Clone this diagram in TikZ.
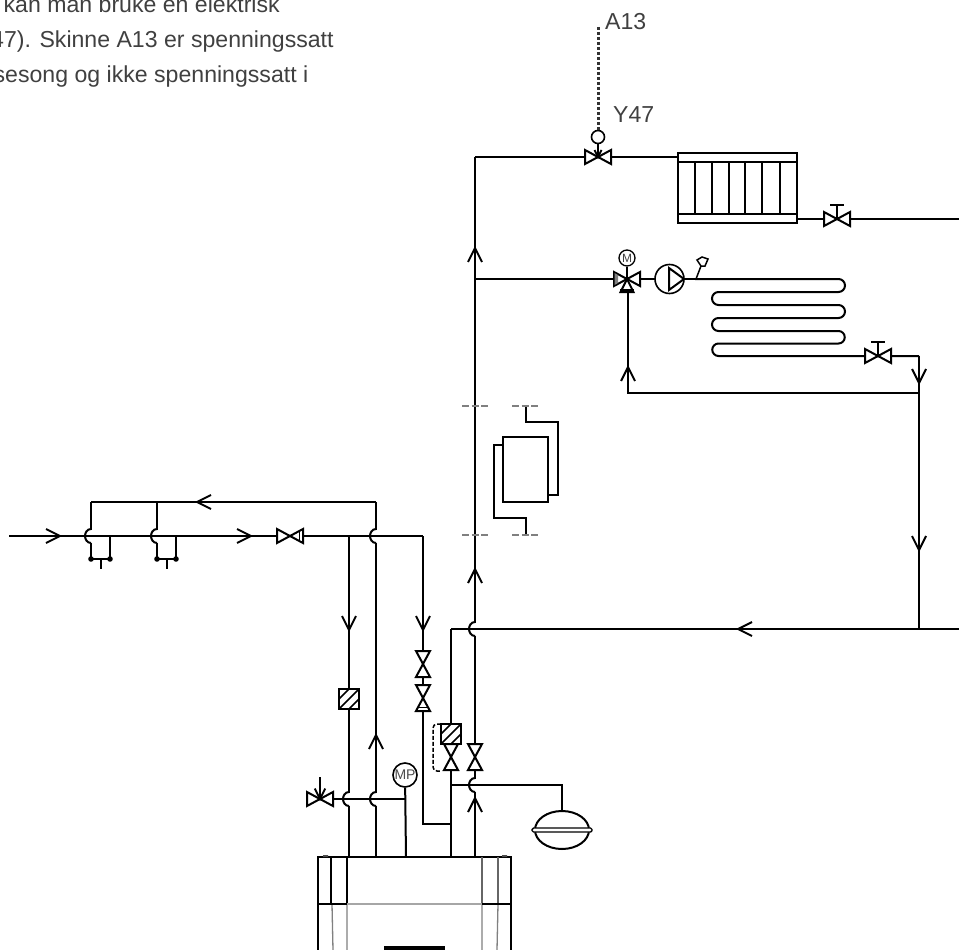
\documentclass[tikz,border=0pt]{standalone}
\usepackage{fontspec}
\setmainfont{Liberation Sans}
\begin{document}
\begin{tikzpicture}[%%
  x=1pt,y=-1pt,%%
  pipeStyle/.style={line width=2pt,line join=miter},%%
  thinStyle/.style={line width=1.3pt,gray},%%
  signalStyle/.style={line width=3pt,dash pattern=on 3pt off 2pt,black!80},%%
  cutStyle/.style={line width=1.4pt,gray,dash pattern=on 7pt off 2.6pt},%%
  labelStyle/.style={text=black!75,font=\fontsize{23.1}{23.1}\selectfont,inner sep=0pt,anchor=base west},%%
  ringStyle/.style={circle,draw,line width=1.6pt,fill=white,inner sep=0pt},%%
  flowArrow/.pic={\draw[pipeStyle] (-14,-7) -- (0,0) -- (-14,7);},%%
  valveSymbol/.pic={\draw[pipeStyle,fill=white] (-13,-7) -- (13,7) -- (13,-7) -- (-13,7) -- cycle;},%%
  valveBar/.pic={\draw[line width=1.6pt] (9.5,-6) -- (9.5,6);},%%
  valveHandle/.pic={\draw[pipeStyle] (0,0) -- (0,-14) (-7,-14) -- (7,-14);},%%
  pipeBump/.pic={%%
    \draw[white,line width=3.4pt] (0,-6.5) -- (0,6.5);
    \draw[pipeStyle] (0,-7) .. controls (-4,-7) and (-6,-3) .. (-6,0) .. controls (-6,3) and (-4,7) .. (0,7);},%%
  filterSymbol/.pic={%%
    \draw[pipeStyle,fill=white] (-10,-10) rectangle (10,10);
    \draw[line width=1.5pt] (-10,0) -- (0,-10) (-10,10) -- (10,-10) (0,10) -- (10,0);},%%
  drainDot/.pic={%%
    \fill (0,0) circle (2.8);
    \fill (19,0) circle (2.8);
    \draw[pipeStyle] (0,0) -- (19,0) (10,0) -- (10,10);}%%
]
%%
\useasboundingbox (0,0) rectangle (959,950);
%%
%% Points of the pipe runs.
\coordinate (inlet) at (9,536);
\coordinate (returnLeft) at (91,502);
\coordinate (returnMid) at (157,502);
\coordinate (returnRight) at (376,502);
\coordinate (drainA) at (91,559);
\coordinate (drainB) at (110,559);
\coordinate (drainC) at (157,559);
\coordinate (drainD) at (176,559);
\coordinate (tapB) at (110,536);
\coordinate (tapD) at (176,536);
\coordinate (mainValve) at (290,536);
\coordinate (coldTop) at (349,536);
\coordinate (boilerA) at (349,857);
\coordinate (boilerB) at (376,857);
\coordinate (boilerC) at (406,857);
\coordinate (boilerD) at (451,857);
\coordinate (boilerE) at (475,857);
\coordinate (fillLow) at (423,824);
\coordinate (fillJoin) at (451,824);
\coordinate (fillHigh) at (423,536);
\coordinate (heatTop) at (475,157);
\coordinate (floorTee) at (475,279);
\coordinate (backTee) at (451,629);
\coordinate (backOut) at (959,629);
\coordinate (backJoin) at (919,629);
\coordinate (tankTee) at (450,785);
\coordinate (tankTurn) at (562,785);
\coordinate (tankTop) at (562,811);
\coordinate (drainValve) at (320,799);
\coordinate (gaugeTee) at (405,799);
%%
\coordinate (radValve) at (598,157);
\coordinate (radIn) at (678,157);
\coordinate (radOut) at (797,219);
\coordinate (radEnd) at (959,219);
\coordinate (radTrim) at (837,219);
\coordinate (mixValve) at (627,279);
\coordinate (coilStart) at (695,279);
\coordinate (coilTrim) at (878,356);
\coordinate (coilTurn) at (919,356);
\coordinate (loopRight) at (919,393);
\coordinate (loopLeft) at (628,393);
\coordinate (loopTop) at (628,290);
%%
%% The vertical pipes first, so that the bumps can cut them.
\draw[pipeStyle] (returnLeft) -- (drainA);
\draw[pipeStyle] (returnMid) -- (drainC);
\draw[pipeStyle] (tapB) -- (drainB);
\draw[pipeStyle] (tapD) -- (drainD);
\draw[pipeStyle] (returnRight) -- (boilerB);
\draw[pipeStyle] (coldTop) -- (boilerA);
\draw[pipeStyle] (heatTop) -- (boilerE);
\draw[pipeStyle] (backTee) -- (boilerD);
\draw[pipeStyle] (fillHigh) -- (fillLow) -- (fillJoin);
\draw[pipeStyle] (coilTurn) -- (backJoin);
\draw[pipeStyle] (loopRight) -- (loopLeft) -- (loopTop);
%%
\path (91,536) pic {pipeBump} (157,536) pic {pipeBump} (376,536) pic {pipeBump};
\path (349,799) pic {pipeBump} (376,799) pic {pipeBump};
\path (475,629) pic {pipeBump} (475,785) pic {pipeBump};
%%
%% The horizontal pipes.
\draw[pipeStyle] (inlet) -- (mainValve) -- (fillHigh);
\draw[pipeStyle] (returnRight) -- (returnLeft);
\draw[pipeStyle] (backTee) -- (backOut);
\draw[pipeStyle] (tankTee) -- (tankTurn) -- (tankTop);
\draw[pipeStyle] (drainValve) -- (gaugeTee);
\draw[pipeStyle] (heatTop) -- (radValve) -- (radIn);
\draw[pipeStyle] (radOut) -- (radEnd);
\draw[pipeStyle] (floorTee) -- (mixValve) -- (coilStart);
%%
%% The floor coil.
\draw[pipeStyle] (coilStart) -- (838.5,279) arc[start angle=-90,end angle=90,radius=6.5]
  -- (718.5,292) arc[start angle=-90,end angle=-270,radius=6.5]
  -- (838.5,305) arc[start angle=-90,end angle=90,radius=6.5]
  -- (718.5,318) arc[start angle=-90,end angle=-270,radius=6.5]
  -- (838.5,331) arc[start angle=-90,end angle=90,radius=6.25]
  -- (718.5,343.5) arc[start angle=-90,end angle=-270,radius=6.25]
  -- (coilTrim) -- (coilTurn);
%%
%% Flow directions.
\path (60,536) pic {flowArrow} (251,536) pic {flowArrow};
\path (197,502) pic[rotate=180] {flowArrow} (738,629) pic[rotate=180] {flowArrow};
\path (349,630) pic[rotate=-90] {flowArrow} (423,630) pic[rotate=-90] {flowArrow};
\path (919,383) pic[rotate=-90] {flowArrow} (919,550) pic[rotate=-90] {flowArrow};
\path (376,735) pic[rotate=90] {flowArrow} (475,798) pic[rotate=90] {flowArrow};
\path (475,569) pic[rotate=90] {flowArrow} (475,248) pic[rotate=90] {flowArrow};
\path (628,367) pic[rotate=90] {flowArrow};
%%
%% Drain points on the inlet.
\path (drainA) pic {drainDot} (drainC) pic {drainDot};
%%
%% The valves.
\path (mainValve) pic {valveSymbol} (mainValve) pic {valveBar};
\path (423,664) pic[rotate=90] {valveSymbol};
\path (423,698) pic[rotate=-90] {valveSymbol} (423,698) pic[rotate=-90] {valveBar};
\path (451,757) pic[rotate=90] {valveSymbol};
\path (475,757) pic[rotate=90] {valveSymbol};
\path (radValve) pic {valveSymbol};
\path (radTrim) pic {valveHandle} (radTrim) pic {valveSymbol};
\path (coilTrim) pic {valveHandle} (coilTrim) pic {valveSymbol};
\path (drainValve) pic {valveSymbol};
%%
%% The shut-off with its spindle.
\coordinate (drainKnob) at (320,777);
\draw[pipeStyle] (drainKnob) -- (drainValve);
\path (drainValve) pic[rotate=-90,scale=0.75] {flowArrow};
%%
%% The dirt filters.
\path (349,699) pic {filterSymbol} (451,734) pic {filterSymbol};
\draw[line width=1.5pt,dash pattern=on 4pt off 2pt,rounded corners=4pt] (441,724) -- (433,724) -- (433,771) -- (441,771);
%%
%% The gauge.
\node[ringStyle,minimum size=24pt] (gauge) at (405,775) {\color{black!70}\fontsize{14}{14}\selectfont MP};
\draw[pipeStyle] (gauge) -- (boilerC);
%%
%% The expansion vessel.
\draw[pipeStyle,fill=white] (562,830) ellipse[x radius=27,y radius=19];
\draw[line width=1.4pt,fill=white,rounded corners=1.5pt] (532,828) rectangle (592,832);
%%
%% The zone valve and its signal line.
\node[ringStyle,minimum size=13pt] (radMotor) at (598,137) {};
\draw[signalStyle] (598,27) -- (radMotor);
\draw[line width=1.5pt] (radMotor) -- (radValve);
\path (radValve) pic[rotate=-90,scale=0.5] {flowArrow};
\node[labelStyle] (busLabel) at (605,30) {A13};
\node[labelStyle] (valveLabel) at (613,122) {Y47};
%%
%% The radiator.
\draw[pipeStyle,fill=white] (678,153) rectangle (797,223);
\draw[pipeStyle] (678,162) -- (797,162) (678,214) -- (797,214);
\foreach \xrib in {695,712,729,745,762,780} {
  \draw[pipeStyle] (\xrib,162) -- (\xrib,214);
}
%%
%% The mixing valve, the pump and its sensor.
\path (mixValve) pic {valveSymbol};
\fill[gray] (614.5,273) -- (618,275) -- (618,283) -- (614.5,285) -- cycle;
\draw[pipeStyle,fill=white] (627,279) -- (620.5,292) -- (633.5,292) -- cycle;
\draw[line width=1.4pt,fill=gray!40] (620.5,290) rectangle (633.5,292);
\node[ringStyle,minimum size=16pt,line width=1.3pt] (mixMotor) at (627,258) {\color{black!75}\fontsize{12}{12}\selectfont M};
\draw[pipeStyle] (mixMotor) -- (mixValve);
\node[ringStyle,minimum size=29pt] (floorPump) at (669.5,279) {};
\draw[pipeStyle] (669,268) -- (684,279) -- (669,290) -- cycle;
\draw[line width=1.5pt] (696,279) -- (701,266);
\draw[line width=1.5pt] (701,266) -- (697,260) -- (702,257) -- (708,259) -- (705,266) -- cycle;
%%
%% The heat exchanger between its cut marks.
\draw[pipeStyle] (526,406) -- (526,422) -- (558,422) -- (558,495) -- (548,495);
\draw[pipeStyle] (503,445) -- (494,445) -- (494,518) -- (526,518) -- (526,535);
\draw[pipeStyle,fill=white] (503,437) rectangle (548,502);
\draw[cutStyle] (462,406) -- (490,406) (512,406) -- (540,406);
\draw[cutStyle] (462,535) -- (490,535) (512,535) -- (540,535);
%%
%% The heat pump cabinet.
\draw[pipeStyle] (318,950) -- (318,857) -- (511,857) -- (511,950);
\draw[line width=1.5pt] (331,857) -- (331,904) (347,857) -- (347,904);
\draw[line width=1.5pt,black!60] (482,857) -- (482,904) (498,857) -- (498,904);
\draw[thinStyle] (332,904) -- (333,950) (347,904) -- (347,950) (482,904) -- (482,950) (498,904) -- (497,950);
\draw[line width=2.4pt] (318,904) -- (511,904);
\draw[line width=1.2pt,gray!70] (347,904) -- (482,904);
\fill (384,946) rectangle (445,950);
\fill[black!70] (323,855) rectangle (328,857) (502,855) rectangle (507,857);
%%
%% The text above the picture.
\node[labelStyle] (textOne) at (3.5,13) {kan man bruke en elektrisk};
\node[labelStyle] (textTwo) at (-9,48) {47). Skinne A13 er spenningssatt};
\node[labelStyle] (textThree) at (-6.5,82) {sesong og ikke spenningssatt i};
\end{tikzpicture}
\end{document}
